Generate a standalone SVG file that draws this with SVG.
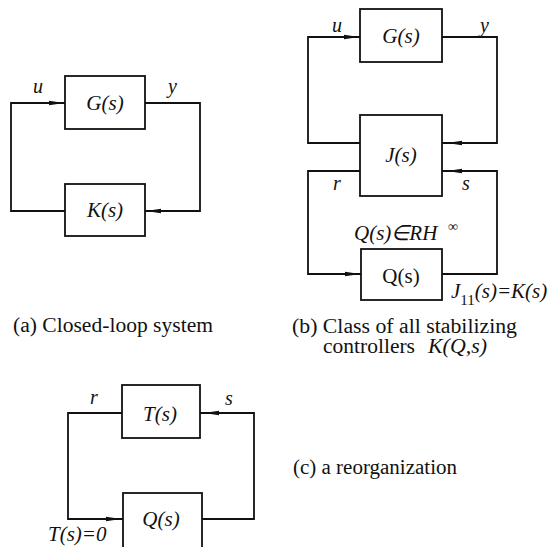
<svg xmlns="http://www.w3.org/2000/svg" xmlns:xlink="http://www.w3.org/1999/xlink" width="554" height="547" viewBox="0 0 554 547">
<style>
  .box { fill: #fff; stroke: #111; stroke-width: 1.8; }
  .wire { fill: none; stroke: #111; stroke-width: 1.8; }
  .ah { fill: #111; }
  text { font-family: "Liberation Serif", "Times New Roman", serif; fill: #111; }
  .m { font-style: italic; font-size: 21px; }
  .lbl { font-style: italic; font-size: 20px; }
  .up { font-size: 21px; }
  .cap { font-size: 20px; }
  .mid { text-anchor: middle; }
</style>
<defs>
  <path id="ah" class="ah" d="M0,0 L-15,-2.2 L-15,2.2 Z"/>
</defs>

<!-- (a) closed-loop system -->
<g id="connectors-a">
  <path class="wire" d="M65,103 H11 V211 H65"/>
  <path class="wire" d="M145,103 H200 V211 H145"/>
  <use xlink:href="#ah" transform="translate(64,103)"/>
  <use xlink:href="#ah" transform="translate(146,211) rotate(180)"/>
  <text class="lbl" x="33" y="93">u</text>
  <text class="lbl" x="168" y="93">y</text>
</g>
<g id="a-G">
  <rect class="box" x="65" y="76" width="80" height="53"/>
  <text class="m mid" x="105" y="110">G(s)</text>
</g>
<g id="a-K">
  <rect class="box" x="65" y="184" width="80" height="52"/>
  <text class="m mid" x="105" y="217">K(s)</text>
</g>
<text class="cap" x="13" y="332" textLength="200" lengthAdjust="spacingAndGlyphs">(a) Closed-loop system</text>

<!-- (b) class of all stabilizing controllers -->
<g id="connectors-b">
  <path class="wire" d="M360,37 H308 V143 H360"/>
  <path class="wire" d="M442,37 H497 V143 H442"/>
  <path class="wire" d="M360,171 H308 V274 H361"/>
  <path class="wire" d="M442,171 H497 V274 H442"/>
  <use xlink:href="#ah" transform="translate(359,37)"/>
  <use xlink:href="#ah" transform="translate(447,143) rotate(180)"/>
  <use xlink:href="#ah" transform="translate(447,171) rotate(180)"/>
  <use xlink:href="#ah" transform="translate(360,274)"/>
  <text class="lbl" x="332" y="32">u</text>
  <text class="lbl" x="480" y="32">y</text>
  <text class="lbl" x="333" y="190">r</text>
  <text class="lbl" x="462" y="190">s</text>
</g>
<g id="b-G">
  <rect class="box" x="360" y="9" width="82" height="53"/>
  <text class="m mid" x="401" y="43">G(s)</text>
</g>
<g id="b-J">
  <rect class="box" x="360" y="115" width="82" height="81"/>
  <text class="m mid" x="401" y="162">J(s)</text>
</g>
<g id="b-Q">
  <rect class="box" x="361" y="249" width="81" height="51"/>
  <text class="up mid" x="401" y="283">Q(s)</text>
</g>
<text class="m" x="354" y="240">Q(s)∈RH</text>
<text x="448" y="231" style="font-size:14px">∞</text>
<text class="m" x="451" y="298">J<tspan dy="7" font-size="15" font-style="normal">11</tspan><tspan dy="-7">(s)=K(s)</tspan></text>
<text class="cap" x="292" y="333" textLength="225" lengthAdjust="spacingAndGlyphs">(b) Class of all stabilizing</text>
<text class="cap" x="323" y="353" textLength="92" lengthAdjust="spacingAndGlyphs">controllers</text>
<text class="cap" x="428" y="353" font-style="italic" textLength="59" lengthAdjust="spacingAndGlyphs">K(Q,s)</text>

<!-- (c) a reorganization -->
<g id="connectors-c">
  <path class="wire" d="M122,413 H68 V519 H123"/>
  <path class="wire" d="M200,413 H254 V519 H202"/>
  <use xlink:href="#ah" transform="translate(204,413) rotate(180)"/>
  <use xlink:href="#ah" transform="translate(121,519)"/>
  <text class="lbl" x="90" y="404">r</text>
  <text class="lbl" x="225" y="405">s</text>
</g>
<g id="c-T">
  <rect class="box" x="122" y="385" width="78" height="53"/>
  <text class="m mid" x="160" y="421">T(s)</text>
</g>
<g id="c-Q">
  <rect class="box" x="123" y="493" width="79" height="56"/>
  <text class="m mid" x="161" y="526">Q(s)</text>
</g>
<text class="m" x="48" y="541">T(s)=0</text>
<text class="cap" x="293" y="474" textLength="164" lengthAdjust="spacingAndGlyphs">(c) a reorganization</text>
</svg>
